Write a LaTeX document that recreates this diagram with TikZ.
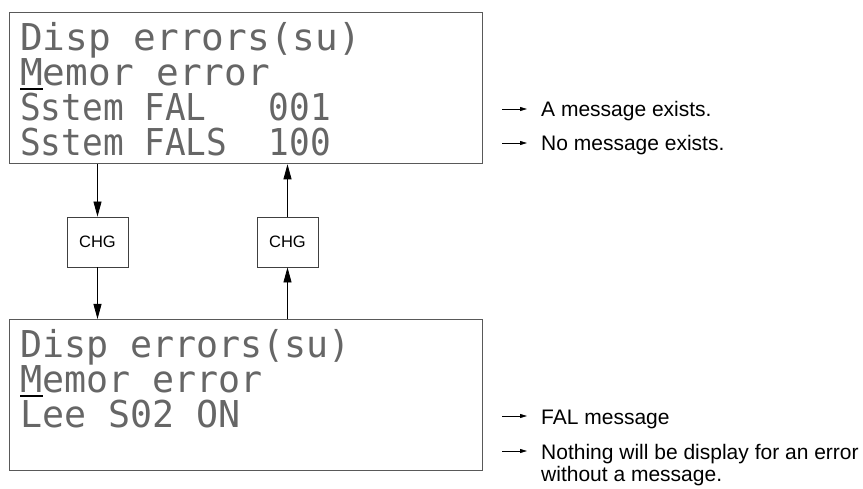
\documentclass[tikz,border=0pt]{standalone}
\usepackage{fontspec}
\setmainfont{Liberation Sans}
\newfontfamily\lcdfont{DejaVu Sans Mono}
\usetikzlibrary{arrows.meta}
\begin{document}
\begin{tikzpicture}[x=1pt,y=-1pt,
  panel/.style={draw=black!65, line width=1.3pt, minimum width=473pt, minimum height=151pt, inner sep=0pt, anchor=north west},
  chgbox/.style={draw=black!75, line width=0.9pt, minimum width=61pt, minimum height=50pt, inner sep=0pt, font=\fontsize{16.5}{18}\selectfont},
  lcdA/.style={anchor=base west, inner sep=0pt, text=black!60, font=\lcdfont\fontsize{37}{37}\selectfont\addfontfeature{FakeStretch=1.02}},
  lcdB/.style={anchor=base west, inner sep=0pt, text=black!60, font=\lcdfont\fontsize{37}{37}\selectfont\addfontfeature{FakeStretch=0.93}},
  lcdC/.style={anchor=base west, inner sep=0pt, text=black!60, font=\lcdfont\fontsize{37}{37}\selectfont\addfontfeature{FakeStretch=0.99}},
  note/.style={anchor=base west, inner sep=0pt, align=left, font=\fontsize{21}{23}\selectfont},
  arr/.style={line width=0.8pt, -{Triangle[length=15pt, width=8pt]}},
  sarr/.style={line width=0.8pt, -{Triangle[length=7pt, width=4pt]}},
  uline/.style={line width=2pt}
]
\useasboundingbox (0,0) rectangle (863,489);
% panels
\node[panel] (top) at (9,12) {};
\node[panel] (bot) at (9,319) {};
% top panel text
\node[lcdA] (t1) at (20,51) {Disp errors(su)};
\node[lcdA] (t2) at (20,86) {Memor error};
\node[lcdB] (t3) at (20,121) {Sstem FAL\ \ \ 001};
\node[lcdB] (t4) at (20,156) {Sstem FALS\ \ 100};
\coordinate (u1a) at (20,89);
\coordinate (u1b) at (43,89);
\draw[uline] (u1a) -- (u1b);
% bottom panel text
\node[lcdC] (b1) at (20,357) {Disp errors(su)};
\node[lcdC] (b2) at (20,392) {Memor error};
\node[lcdC] (b3) at (20,427) {Lee S02 ON};
\coordinate (u2a) at (20,396);
\coordinate (u2b) at (43,396);
\draw[uline] (u2a) -- (u2b);
% CHG boxes
\node[chgbox] (chg1) at (97.5,242) {CHG};
\node[chgbox] (chg2) at (287.5,242) {CHG};
\draw[arr] (chg1.north |- top.south) -- (chg1.north);
\draw[arr] (chg1.south) -- (chg1.south |- bot.north);
\draw[arr] (chg2.south |- bot.north) -- (chg2.south);
\draw[arr] (chg2.north) -- (chg2.north |- top.south);
% notes
\node[note] (n1) at (541,117) {A message exists.};
\node[note] (n2) at (541,151) {No message exists.};
\node[note] (n3) at (541,424) {FAL message};
\node[note] (n4) at (541,459) {Nothing will be display for an error};
\node[note] (n5) at (541,481) {without a message.};
\coordinate (a1s) at (502,109); \coordinate (a1e) at (527,109);
\coordinate (a2s) at (502,143); \coordinate (a2e) at (527,143);
\coordinate (a3s) at (502,416); \coordinate (a3e) at (527,416);
\coordinate (a4s) at (502,451); \coordinate (a4e) at (527,451);
\draw[sarr] (a1s) -- (a1e);
\draw[sarr] (a2s) -- (a2e);
\draw[sarr] (a3s) -- (a3e);
\draw[sarr] (a4s) -- (a4e);
\end{tikzpicture}
\end{document}
